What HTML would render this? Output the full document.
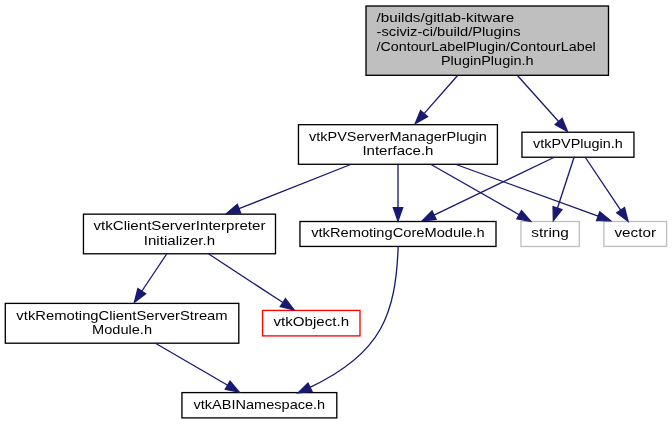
<!DOCTYPE html>
<html><head><meta charset="utf-8"><style>
html,body{margin:0;padding:0;background:#fff;width:672px;height:424px;overflow:hidden;position:relative}
text{font-family:"Liberation Sans",sans-serif;font-size:13.5px;fill:#000}
</style></head><body>
<svg width="672" height="424" viewBox="0 0 672 424" style="position:absolute;left:0;top:0;will-change:transform">
<rect x="366.0" y="6.0" width="242.50" height="69.30" fill="#bfbfbf" stroke="#000" stroke-width="1.33"/>
<rect x="298.46" y="124.67" width="198.94" height="39.61" fill="#fff" stroke="#000" stroke-width="1.33"/>
<rect x="521.95" y="132.23" width="112.00" height="25.00" fill="#fff" stroke="#000" stroke-width="1.33"/>
<rect x="83.45" y="214.16" width="192.05" height="39.63" fill="#fff" stroke="#000" stroke-width="1.33"/>
<rect x="299.95" y="221.5" width="196.05" height="24.94" fill="#fff" stroke="#000" stroke-width="1.33"/>
<rect x="520.95" y="221.5" width="58.35" height="25.00" fill="#fff" stroke="#bfbfbf" stroke-width="1.33"/>
<rect x="603.9" y="221.5" width="62.70" height="24.90" fill="#fff" stroke="#bfbfbf" stroke-width="1.33"/>
<rect x="5.3" y="303.4" width="233.50" height="39.80" fill="#fff" stroke="#000" stroke-width="1.33"/>
<rect x="262.6" y="310.44" width="97.40" height="25.46" fill="#fff" stroke="#ff0000" stroke-width="1.33"/>
<rect x="181.95" y="392.6" width="154.85" height="25.30" fill="#fff" stroke="#000" stroke-width="1.33"/>
<path d="M457.6,75.5 L424.08,113.61" fill="none" stroke="#191970" stroke-width="1.33"/>
<polygon points="415.29,123.60 420.57,110.53 427.58,116.70" fill="#191970" stroke="#191970" stroke-width="1.33"/>
<path d="M517.4,75.5 L558.62,121.50" fill="none" stroke="#191970" stroke-width="1.33"/>
<polygon points="567.50,131.41 555.15,124.62 562.10,118.38" fill="#191970" stroke="#191970" stroke-width="1.33"/>
<path d="M350.6,164.5 L238.98,208.67" fill="none" stroke="#191970" stroke-width="1.33"/>
<polygon points="226.62,213.56 237.26,204.32 240.70,213.01" fill="#191970" stroke="#191970" stroke-width="1.33"/>
<path d="M398,164.5 L398.00,207.70" fill="none" stroke="#191970" stroke-width="1.33"/>
<polygon points="398.00,221.00 393.33,207.70 402.67,207.70" fill="#191970" stroke="#191970" stroke-width="1.33"/>
<path d="M431.1,164.5 L519.20,214.72" fill="none" stroke="#191970" stroke-width="1.33"/>
<polygon points="530.76,221.31 516.89,218.78 521.52,210.66" fill="#191970" stroke="#191970" stroke-width="1.33"/>
<path d="M456.1,164.5 L598.18,216.24" fill="none" stroke="#191970" stroke-width="1.33"/>
<polygon points="610.67,220.79 596.58,220.63 599.77,211.85" fill="#191970" stroke="#191970" stroke-width="1.33"/>
<path d="M553.8,157.5 L434.06,215.20" fill="none" stroke="#191970" stroke-width="1.33"/>
<polygon points="422.08,220.98 432.03,211.00 436.09,219.41" fill="#191970" stroke="#191970" stroke-width="1.33"/>
<path d="M574,157.5 L557.50,208.02" fill="none" stroke="#191970" stroke-width="1.33"/>
<polygon points="553.37,220.66 553.06,206.57 561.94,209.47" fill="#191970" stroke="#191970" stroke-width="1.33"/>
<path d="M585.4,157.5 L620.64,210.24" fill="none" stroke="#191970" stroke-width="1.33"/>
<polygon points="628.03,221.30 616.76,212.84 624.53,207.65" fill="#191970" stroke="#191970" stroke-width="1.33"/>
<path d="M166.7,254 L141.77,291.25" fill="none" stroke="#191970" stroke-width="1.33"/>
<polygon points="134.37,302.30 137.88,288.65 145.65,293.85" fill="#191970" stroke="#191970" stroke-width="1.33"/>
<path d="M208.4,253.8 L282.87,302.56" fill="none" stroke="#191970" stroke-width="1.33"/>
<polygon points="294.00,309.84 280.31,306.46 285.43,298.65" fill="#191970" stroke="#191970" stroke-width="1.33"/>
<path d="M155,343 L227.67,385.30" fill="none" stroke="#191970" stroke-width="1.33"/>
<polygon points="239.16,392.00 225.32,389.34 230.02,381.27" fill="#191970" stroke="#191970" stroke-width="1.33"/>
<path d="M398.2,246.5 C395.6,313.4 382.4,353.3 310.0,387.3" fill="none" stroke="#191970" stroke-width="1.33"/>
<polygon points="297.96,392.95 308.01,383.07 311.99,391.53" fill="#191970" stroke="#191970" stroke-width="1.33"/>
<text x="376.50" y="21.9" textLength="137.79" lengthAdjust="spacingAndGlyphs">/builds/gitlab-kitware</text>
<text x="376.50" y="36.3" textLength="144.02" lengthAdjust="spacingAndGlyphs">-sciviz-ci/build/Plugins</text>
<text x="376.50" y="50.7" textLength="219.30" lengthAdjust="spacingAndGlyphs">/ContourLabelPlugin/ContourLabel</text>
<text x="440.97" y="65.1" textLength="92.57" lengthAdjust="spacingAndGlyphs">PluginPlugin.h</text>
<text x="309.09" y="140.8" textLength="177.67" lengthAdjust="spacingAndGlyphs">vtkPVServerManagerPlugin</text>
<text x="362.41" y="155.3" textLength="71.04" lengthAdjust="spacingAndGlyphs">Interface.h</text>
<text x="533.04" y="148" textLength="89.81" lengthAdjust="spacingAndGlyphs">vtkPVPlugin.h</text>
<text x="93.47" y="230.4" textLength="172.01" lengthAdjust="spacingAndGlyphs">vtkClientServerInterpreter</text>
<text x="143.77" y="244.9" textLength="71.40" lengthAdjust="spacingAndGlyphs">Initializer.h</text>
<text x="311.23" y="237" textLength="173.49" lengthAdjust="spacingAndGlyphs">vtkRemotingCoreModule.h</text>
<text x="531.35" y="237" textLength="37.56" lengthAdjust="spacingAndGlyphs">string</text>
<text x="614.50" y="237" textLength="41.51" lengthAdjust="spacingAndGlyphs">vector</text>
<text x="16.39" y="319.5" textLength="211.31" lengthAdjust="spacingAndGlyphs">vtkRemotingClientServerStream</text>
<text x="92.03" y="334.0" textLength="60.04" lengthAdjust="spacingAndGlyphs">Module.h</text>
<text x="273.54" y="326.3" textLength="75.52" lengthAdjust="spacingAndGlyphs">vtkObject.h</text>
<text x="193.53" y="408.5" textLength="131.70" lengthAdjust="spacingAndGlyphs">vtkABINamespace.h</text>
</svg>
</body></html>
